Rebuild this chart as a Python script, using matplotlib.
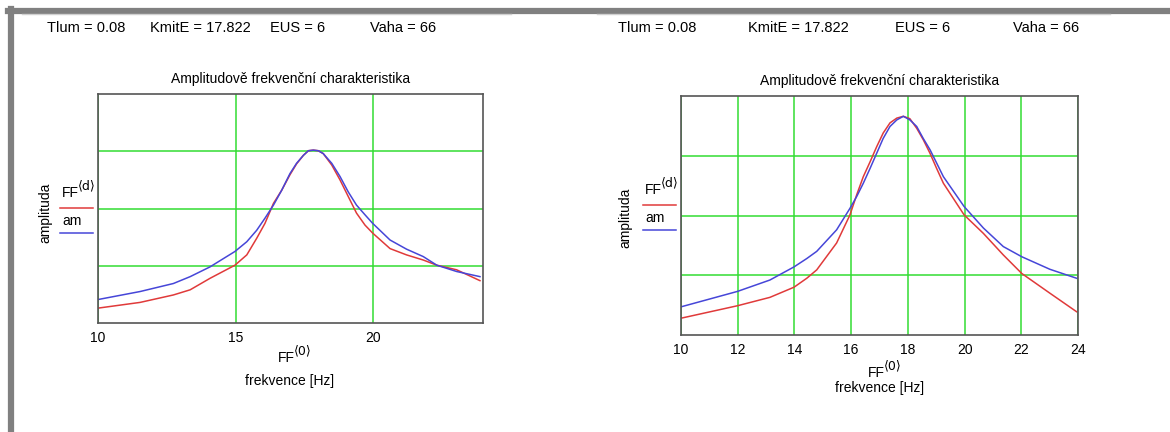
import matplotlib

matplotlib.use("Agg")
import matplotlib.pyplot as plt
from matplotlib.lines import Line2D

plt.rcParams["font.family"] = ["Liberation Sans", "DejaVu Sans"]

# header values
header = ["Tlum = 0.08", "KmitE = 17.822", "EUS = 6", "Vaha = 66"]

# left panel (amplitude in grid units, 4 divisions)
left_f = [10.0, 11.53, 12.74, 13.35, 14.07, 14.98, 15.41, 15.77, 16.07, 16.38,
          16.68, 16.98, 17.22, 17.47, 17.65, 17.83, 18.01, 18.19, 18.5, 18.8,
          19.1, 19.4, 19.71, 19.99, 20.62, 21.22, 21.83, 22.32, 23.04, 23.89]
left_am = [0.41, 0.55, 0.69, 0.81, 0.98, 1.25, 1.42, 1.62, 1.83, 2.06,
           2.32, 2.61, 2.79, 2.93, 3.01, 3.02, 3.01, 2.96, 2.79, 2.56,
           2.29, 2.06, 1.89, 1.74, 1.45, 1.29, 1.16, 1.01, 0.90, 0.81]
left_ff = [0.26, 0.36, 0.49, 0.58, 0.78, 1.01, 1.19, 1.48, 1.74, 2.09,
           2.32, 2.59, 2.78, 2.93, 3.01, 3.02, 3.01, 2.96, 2.76, 2.50,
           2.21, 1.92, 1.71, 1.57, 1.30, 1.19, 1.10, 1.01, 0.93, 0.74]

# right panel
right_f = [10.0, 12.0, 13.14, 13.99, 14.44, 14.79, 15.49, 15.96, 16.2, 16.43,
           16.67, 16.90, 17.13, 17.37, 17.61, 17.84, 18.07, 18.31, 18.54, 18.78,
           19.01, 19.25, 19.98, 20.66, 21.36, 22.01, 23.0, 23.94]
right_am = [0.47, 0.73, 0.92, 1.14, 1.28, 1.40, 1.76, 2.12, 2.32, 2.54,
            2.79, 3.04, 3.29, 3.49, 3.60, 3.66, 3.60, 3.49, 3.29, 3.10,
            2.88, 2.65, 2.15, 1.79, 1.48, 1.31, 1.10, 0.95]
right_ff = [0.28, 0.49, 0.63, 0.80, 0.95, 1.09, 1.54, 2.01, 2.35, 2.65,
            2.90, 3.15, 3.38, 3.55, 3.63, 3.66, 3.62, 3.46, 3.27, 3.04,
            2.79, 2.54, 2.01, 1.70, 1.34, 1.03, 0.70, 0.39]

left_xticks = [10, 15, 20]
right_xticks = [10, 12, 14, 16, 18, 20, 22, 24]
y_grid = [1, 2, 3]

RED = "#e03a3a"
BLUE = "#4646d8"
GREEN = "#33dd33"
FRAME = "#555555"
W, H = 1170, 432


def fx(px):
    return px / W


def fy(py):
    return 1 - py / H


def draw_panel(fig, rect, f, ff, am, xticks):
    ax = fig.add_axes(rect)
    ax.plot(f, ff, color=RED, linewidth=1.1)
    ax.plot(f, am, color=BLUE, linewidth=1.1)
    ax.set_xlim(10, 24)
    ax.set_ylim(0, 4)
    ax.set_xticks(xticks)
    ax.set_yticks(y_grid)
    ax.set_yticklabels([])
    ax.tick_params(length=0, labelsize=10, pad=6)
    ax.grid(True, color=GREEN, linewidth=1.1)
    ax.set_axisbelow(True)
    for spine in ax.spines.values():
        spine.set_color(FRAME)
        spine.set_linewidth(1.2)
    ax.set_title("Amplitudově frekvenční charakteristika", fontsize=10, pad=8)
    return ax


def ff_label(fig, x, y, sup, ha="left"):
    # "FF" with a bracketed superscript index
    if ha == "center":
        x = x - 12
    fig.text(fx(x), fy(y), "FF", fontsize=10, ha="left", va="center")
    fig.text(fx(x + 16), fy(y - 7), "\u27e8" + sup + "\u27e9", fontsize=9,
             ha="left", va="center", family=["DejaVu Sans"])


fig = plt.figure(figsize=(11.7, 4.32), dpi=100)

# window frame
fig.add_artist(Line2D([fx(8), 1.0], [fy(11)] * 2, color="#808080", linewidth=4.5))
fig.add_artist(Line2D([fx(11)] * 2, [0, fy(9)], color="#808080", linewidth=4.5))
fig.add_artist(Line2D([fx(22), fx(511)], [fy(14)] * 2, color="#d0d0d0", linewidth=1))
fig.add_artist(Line2D([fx(597), fx(1110)], [fy(14)] * 2, color="#d0d0d0", linewidth=1))

ax1 = draw_panel(fig, [0.0838, 0.2523, 0.329, 0.530], left_f, left_ff, left_am, left_xticks)
ax2 = draw_panel(fig, [0.5818, 0.2245, 0.3398, 0.5533], right_f, right_ff, right_am, right_xticks)

# headers
for xs in [[47, 150, 270, 370], [618, 748, 895, 1013]]:
    for x, s in zip(xs, header):
        fig.text(fx(x), fy(28), s, fontsize=10.5, va="center", ha="left")

# y labels and legends
for lx, ly, leg_x, leg_y in [(45, 213, 60, 193), (625, 218, 643, 190)]:
    fig.text(fx(lx), fy(ly), "amplituda", rotation=90, fontsize=10,
             ha="center", va="center")
    ff_label(fig, leg_x + 2, leg_y, "d")
    fig.add_artist(Line2D([fx(leg_x), fx(leg_x + 33)], [fy(leg_y + 15)] * 2,
                          color=RED, linewidth=1.1))
    fig.text(fx(leg_x + 2), fy(leg_y + 28), "am", fontsize=10, ha="left", va="center")
    fig.add_artist(Line2D([fx(leg_x), fx(leg_x + 33)], [fy(leg_y + 40)] * 2,
                          color=BLUE, linewidth=1.1))

# x labels
for cx, y1, y2 in [(290, 358, 381), (880, 373, 388)]:
    ff_label(fig, cx, y1, "0", ha="center")
    fig.text(fx(cx), fy(y2), "frekvence [Hz]", fontsize=10, ha="center", va="center")

fig.savefig("out.png", dpi=100, facecolor="white")
